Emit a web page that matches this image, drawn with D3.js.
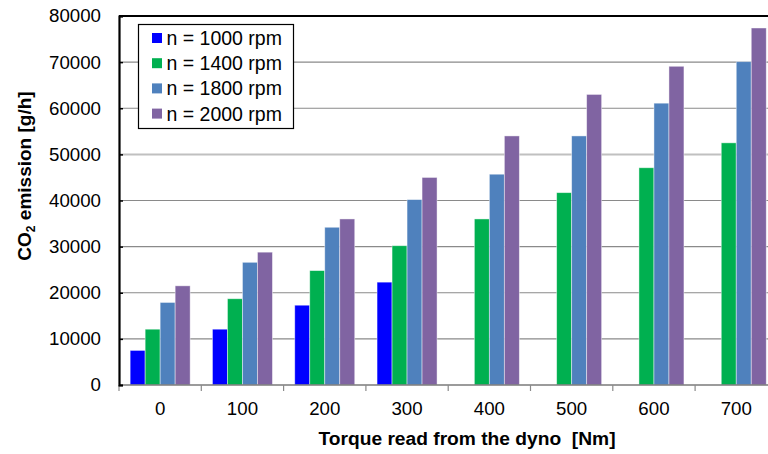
<!DOCTYPE html>
<html><head><meta charset="utf-8">
<script src="https://cdn.jsdelivr.net/npm/d3@7"></script>
<style>html,body{margin:0;padding:0;background:#fff;overflow:hidden}svg{display:block}</style>
</head><body>
<svg id="chart" width="768" height="454"></svg>
<script>
const categories = ["0","100","200","300","400","500","600","700"];
const seriesNames = ["n = 1000 rpm","n = 1400 rpm","n = 1800 rpm","n = 2000 rpm"];
const seriesColors = ["#0000FF","#00B050","#4F81BD","#8064A2"];
const rpm1000 = [7500, 12100, 17300, 22300, 0, 0, 0, 0];
const rpm1400 = [12100, 18700, 24800, 30200, 36000, 41700, 47100, 52500];
const rpm1800 = [17900, 26600, 34200, 40200, 45700, 54000, 61100, 70100];
const rpm2000 = [21500, 28800, 36000, 45000, 54000, 63000, 69100, 77400];
const yTicks = [0,10000,20000,30000,40000,50000,60000,70000,80000];

const allSeries = [rpm1000, rpm1400, rpm1800, rpm2000];
const svg = d3.select("#chart");
const font = "'Liberation Sans', Arial, sans-serif";
const L = 119, T = 16, B = 385, step = 82.3, R = L + step * categories.length;

const x0 = d3.scaleBand().domain(categories).range([L, R]).padding(0);
const x1 = d3.scaleBand().domain(d3.range(4)).range([11.15, step - 11.15]).padding(0);
const y = d3.scaleLinear().domain([0, 80000]).range([B, T]);

// gridlines
svg.append("g").selectAll("line").data(yTicks.filter(d => d > 0 && d < 80000)).join("line")
  .attr("x1", L).attr("x2", R).attr("y1", d => y(d)).attr("y2", d => y(d))
  .attr("stroke", d => d === 50000 ? "#c0c0c0" : "#8a8a8a")
  .attr("stroke-width", d => d === 50000 ? 2 : 1.2);

// bars
const g = svg.append("g");
categories.forEach((c, i) => {
  allSeries.forEach((s, k) => {
    const v = s[i];
    if (!v) return;
    g.append("rect")
      .attr("x", x0(c) + x1(k)).attr("width", x1.bandwidth())
      .attr("y", y(v)).attr("height", y(0) - y(v))
      .attr("fill", seriesColors[k])
      .attr("stroke", "rgba(255,255,255,0.55)").attr("stroke-width", 0.8);
  });
});

// top border
svg.append("line").attr("x1", L).attr("x2", R).attr("y1", T).attr("y2", T)
  .attr("stroke", "#000").attr("stroke-width", 2);

// bottom axis
const xAxis = d3.axisBottom(x0).tickSize(0).tickPadding(0).tickFormat(d => d);
const xg = svg.append("g").attr("transform", `translate(0,${B})`).call(xAxis);
xg.select(".domain").remove();
xg.selectAll("text").attr("font-family", font).attr("font-size", 18.7).attr("fill", "#000")
  .attr("y", 30).attr("dy", 0);
svg.append("line").attr("x1", L).attr("x2", R).attr("y1", B).attr("y2", B)
  .attr("stroke", "#7a7a7a").attr("stroke-width", 1.5);
svg.append("g").selectAll("line").data(d3.range(categories.length + 1)).join("line")
  .attr("x1", d => L + d * step).attr("x2", d => L + d * step)
  .attr("y1", B).attr("y2", B + 6).attr("stroke", "#8a8a8a").attr("stroke-width", 1.2);

// left axis
const yAxis = d3.axisLeft(y).tickValues(yTicks).tickSize(-4).tickPadding(18).tickFormat(d3.format("d"));
const yg = svg.append("g").attr("transform", `translate(${L},0)`).call(yAxis);
yg.select(".domain").attr("stroke", "#000").attr("stroke-width", 2.2);
yg.selectAll(".tick line").attr("stroke", "#000").attr("stroke-width", 1.5);
yg.selectAll("text").attr("font-family", font).attr("font-size", 18.7).attr("fill", "#000");

// axis titles
svg.append("text").attr("x", 467).attr("y", 445).attr("text-anchor", "middle")
  .attr("font-family", font).attr("font-size", 19.2).attr("font-weight", "bold")
  .attr("xml:space", "preserve").style("white-space", "pre")
  .text("Torque read from the dyno  [Nm]");
const yt = svg.append("text").attr("transform", "translate(31,176) rotate(-90)")
  .attr("text-anchor", "middle").attr("font-family", font).attr("font-size", 19).attr("font-weight", "bold");
yt.append("tspan").text("CO");
yt.append("tspan").attr("font-size", 12).attr("dy", 4).text("2");
yt.append("tspan").attr("dy", -4).text(" emission [g/h]");

// legend
const lg = svg.append("g");
lg.append("rect").attr("x", 138.5).attr("y", 24.5).attr("width", 155).attr("height", 104)
  .attr("fill", "#fff").attr("stroke", "#000").attr("stroke-width", 1.2);
seriesNames.forEach((n, k) => {
  const cy = 38 + k * 25.2;
  lg.append("rect").attr("x", 152).attr("y", cy - 5).attr("width", 10).attr("height", 10).attr("fill", seriesColors[k]);
  lg.append("text").attr("x", 166.5).attr("y", cy + 7).attr("font-family", font).attr("font-size", 19.5).text(n);
});
</script>
</body></html>
